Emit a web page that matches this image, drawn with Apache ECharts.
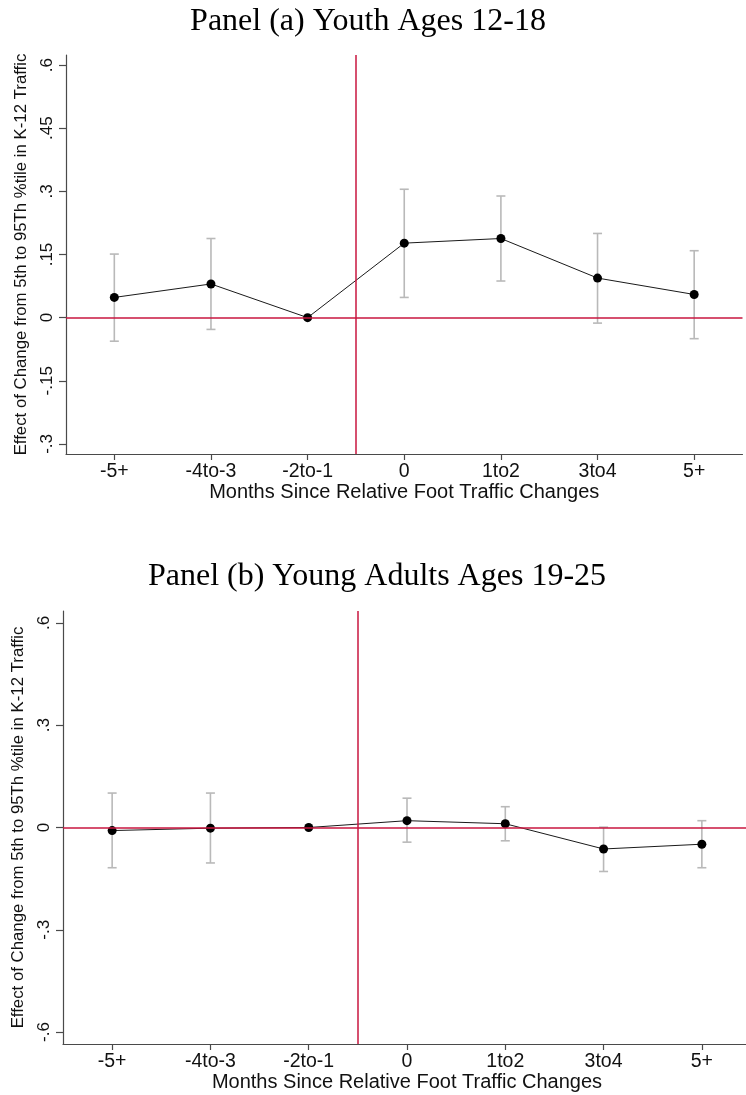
<!DOCTYPE html>
<html>
<head>
<meta charset="utf-8">
<script src="https://cdn.jsdelivr.net/npm/echarts@6/dist/echarts.min.js"></script>
<style>
  html, body { margin: 0; padding: 0; background: #fff; }
  #chart { width: 746px; height: 1095px; }
</style>
</head>
<body>
<div id="chart"></div>
<script>
// Event-study periods relative to the foot traffic change
const categories = ['-5+', '-4to-3', '-2to-1', '0', '1to2', '3to4', '5+'];

// Panel (a): youth ages 12-18 — point estimates and 95% interval bounds
const youthEst = [0.048, 0.080, 0.000, 0.177, 0.188, 0.094, 0.055];
const youthLo  = [-0.056, -0.028, null, 0.048, 0.087, -0.013, -0.050];
const youthHi  = [0.151, 0.188, null, 0.305, 0.289, 0.200, 0.159];

// Panel (b): young adults ages 19-25
const adultEst = [-0.009, -0.002, 0.000, 0.020, 0.011, -0.063, -0.049];
const adultLo  = [-0.118, -0.104, null, -0.043, -0.039, -0.129, -0.118];
const adultHi  = [0.101, 0.101, null, 0.086, 0.061, 0.001, 0.020];

// Tick values on the effect axis of each panel
const yTicksTop = [-0.3, -0.15, 0, 0.15, 0.3, 0.45, 0.6];
const yTicksBottom = [-0.6, -0.3, 0, 0.3, 0.6];
const xTicks = [0, 1, 2, 3, 4, 5, 6];

const titles = ['Panel (a) Youth Ages 12-18', 'Panel (b) Young Adults Ages 19-25'];
const yTitle = 'Effect of Change from 5th to 95Th %tile in K-12 Traffic';
const xTitle = 'Months Since Relative Foot Traffic Changes';

const RED = '#c8163f';
const AXIS = '#4a4a4a';
const SANS = '"Liberation Sans", Arial, sans-serif';
const SERIF = '"Liberation Serif", "Times New Roman", serif';

// Stata-style number labels: .6, .45, -.15, 0
function stataNum(v) {
  if (Math.abs(v) < 1e-9) return '0';
  return String(+v.toFixed(2)).replace('0.', '.');
}

function xAxisFor(gridIndex) {
  return {
    type: 'value', gridIndex, min: -0.5, max: 6.5,
    axisLine: { show: true, onZero: false, lineStyle: { color: AXIS, width: 1.2 } },
    axisTick: { show: true, customValues: xTicks, length: 6, lineStyle: { color: AXIS, width: 1.2 } },
    axisLabel: {
      customValues: xTicks, margin: 8, color: '#111', fontFamily: SANS, fontSize: 19.5,
      formatter: v => categories[Math.round(v)]
    },
    splitLine: { show: false },
    name: xTitle, nameLocation: 'middle', nameGap: 28,
    nameTextStyle: { color: '#111', fontFamily: SANS, fontSize: 20 }
  };
}

function yAxisFor(gridIndex, min, max, ticks) {
  return {
    type: 'value', gridIndex, min, max,
    axisLine: { show: true, onZero: false, lineStyle: { color: AXIS, width: 1.2 } },
    axisTick: { show: true, customValues: ticks, length: 7, lineStyle: { color: AXIS, width: 1.2 } },
    axisLabel: {
      customValues: ticks, rotate: 90, margin: 10, color: '#111', fontFamily: SANS, fontSize: 17,
      formatter: stataNum
    },
    splitLine: { show: false },
    name: yTitle, nameLocation: 'middle', nameGap: 36,
    nameTextStyle: { color: '#111', fontFamily: SANS, fontSize: 16.8 }
  };
}

// Confidence interval whiskers with end caps
function errorBarSeries(idx, lo, hi) {
  const data = [];
  lo.forEach((l, i) => { if (l != null && hi[i] != null) data.push([i, l, hi[i]]); });
  return {
    type: 'custom', xAxisIndex: idx, yAxisIndex: idx, z: 2, silent: true,
    data,
    encode: { x: 0, y: [1, 2] },
    renderItem: (params, api) => {
      const x = api.value(0);
      const pLo = api.coord([x, api.value(1)]);
      const pHi = api.coord([x, api.value(2)]);
      const w = 4.5;
      const style = { stroke: '#b9b9b9', lineWidth: 1.6, fill: null };
      return {
        type: 'group',
        children: [
          { type: 'line', shape: { x1: pLo[0], y1: pLo[1], x2: pHi[0], y2: pHi[1] }, style },
          { type: 'line', shape: { x1: pHi[0] - w, y1: pHi[1], x2: pHi[0] + w, y2: pHi[1] }, style },
          { type: 'line', shape: { x1: pLo[0] - w, y1: pLo[1], x2: pLo[0] + w, y2: pLo[1] }, style }
        ]
      };
    }
  };
}

// Zero line and the event-time divider between -2to-1 and 0
function referenceLines(idx) {
  return {
    type: 'line', xAxisIndex: idx, yAxisIndex: idx, data: [], z: 3, silent: true,
    markLine: {
      silent: true, symbol: ['none', 'none'], label: { show: false },
      lineStyle: { color: RED, width: 1.5, type: 'solid' },
      emphasis: { disabled: true },
      data: [{ yAxis: 0 }, { xAxis: 2.5 }]
    }
  };
}

function estimateSeries(idx, est) {
  return {
    type: 'line', xAxisIndex: idx, yAxisIndex: idx, z: 4, silent: true,
    data: est.map((v, i) => [i, v]),
    symbol: 'circle', symbolSize: 9,
    itemStyle: { color: '#000' },
    lineStyle: { color: '#1a1a1a', width: 1 }
  };
}

const chart = echarts.init(document.getElementById('chart'), null, { renderer: 'canvas' });
chart.setOption({
  animation: false,
  backgroundColor: '#fff',
  grid: [
    { left: 66, top: 55, right: 3.5, height: 399, containLabel: false, outerBoundsMode: 'none' },
    { left: 63, top: 611, right: -5, height: 433, containLabel: false, outerBoundsMode: 'none' }
  ],
  xAxis: [xAxisFor(0), xAxisFor(1)],
  yAxis: [
    yAxisFor(0, -0.324, 0.624, yTicksTop),
    yAxisFor(1, -0.635, 0.635, yTicksBottom)
  ],
  graphic: [
    { type: 'text', x: 368, y: 22, style: { text: titles[0], font: '32px ' + SERIF, fill: '#000', textAlign: 'center', textVerticalAlign: 'middle' } },
    { type: 'text', x: 377, y: 577, style: { text: titles[1], font: '32px ' + SERIF, fill: '#000', textAlign: 'center', textVerticalAlign: 'middle' } }
  ],
  series: [
    errorBarSeries(0, youthLo, youthHi),
    referenceLines(0),
    estimateSeries(0, youthEst),
    errorBarSeries(1, adultLo, adultHi),
    referenceLines(1),
    estimateSeries(1, adultEst)
  ]
});
</script>
</body>
</html>
